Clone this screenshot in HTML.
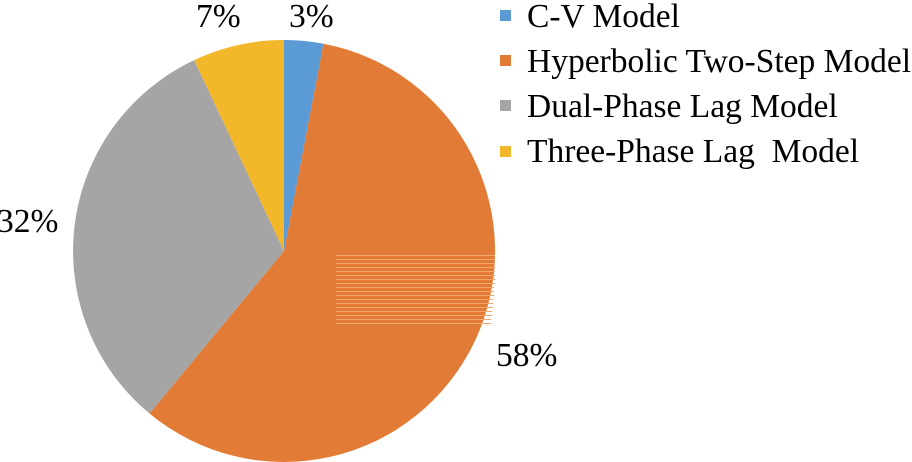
<!DOCTYPE html>
<html><head><style>body{margin:0;background:#fff}svg{display:block}</style></head><body>
<svg width="912" height="462" xmlns="http://www.w3.org/2000/svg" font-family="Liberation Serif, serif" font-size="33.5">
<rect width="912" height="462" fill="#fff"/>
<path d="M284,251 L284,40 A211,211 0 0 1 323.5,43.7 Z" fill="#5b9bd5"/>
<path d="M284,251 L323.5,43.7 A211,211 0 1 1 149.5,413.5 Z" fill="#e27b35"/>
<path d="M284,251 L149.5,413.5 A211,211 0 0 1 194.2,60.1 Z" fill="#a5a5a5"/>
<path d="M284,251 L194.2,60.1 A211,211 0 0 1 284,40 Z" fill="#f3b72a"/>
<g stroke="#f4a56b" stroke-width="1">
<path d="M336,255.5H495M336,259.5H495M336,263.5H495M336,267.5H495M336,271.5H495M336,275.5H495M336,279.5H495M336,283.5H495M336,287.5H494M336,291.5H494M336,295.5H494M336,299.5H493M336,303.5H493M336,307.5H493M336,311.5H492M336,315.5H492M336,319.5H491M336,323.5H491"/>
</g>
<text x="289" y="27">3%</text>
<text x="196" y="27">7%</text>
<text x="-3" y="232">32%</text>
<text x="496" y="366">58%</text>
<rect x="500" y="10" width="11" height="11" fill="#5b9bd5"/>
<rect x="500" y="55" width="11" height="11" fill="#e27b35"/>
<rect x="500" y="100" width="11" height="11" fill="#a5a5a5"/>
<rect x="500" y="146" width="11" height="11" fill="#f3b72a"/>
<text x="527" y="27">C-V Model</text>
<text x="527" y="72">Hyperbolic Two-Step Model</text>
<text x="527" y="117">Dual-Phase Lag Model</text>
<text x="527" y="162" xml:space="preserve">Three-Phase Lag  Model</text>
</svg>
</body></html>
